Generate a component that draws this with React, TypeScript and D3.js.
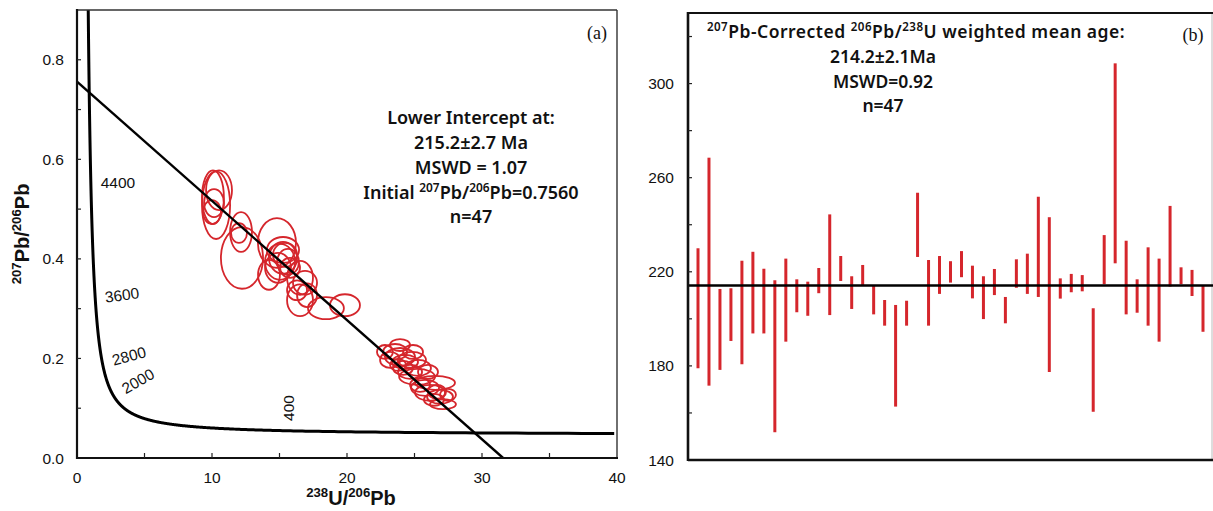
import React from "react";
import * as d3 from "d3";

// ---------- Panel (a) data: Tera-Wasserburg ellipses ----------
const ellX = [10.07, 10.3, 10.15, 10.52, 10.0, 12.15, 12.0, 12.22, 14.81, 15.26, 15.41, 15.04, 15.63, 15.26, 14.89, 14.22, 16.52, 16.89, 16.3, 16.52, 18.44, 19.85, 17.04, 15.78,
  23.56, 23.93, 23.19, 24.3, 24.81, 25.26, 24.15, 25.19, 26.52, 25.78, 26.15, 26.89, 27.11, 26.44, 23.78, 22.81, 24.67, 25.41, 26.0, 26.67, 24.89, 23.93, 27.48];
const ellY = [0.524, 0.508, 0.512, 0.538, 0.494, 0.454, 0.452, 0.402, 0.432, 0.402, 0.408, 0.394, 0.394, 0.418, 0.382, 0.368, 0.362, 0.352, 0.337, 0.317, 0.301, 0.307, 0.327, 0.382,
  0.213, 0.203, 0.197, 0.193, 0.197, 0.181, 0.181, 0.163, 0.151, 0.141, 0.131, 0.123, 0.108, 0.117, 0.187, 0.213, 0.173, 0.147, 0.173, 0.133, 0.213, 0.227, 0.127];
const ellRx = [0.81, 1.04, 0.74, 0.96, 0.67, 0.81, 0.59, 1.56, 1.41, 1.04, 0.89, 1.11, 0.81, 1.19, 0.96, 0.81, 0.96, 0.89, 0.74, 0.96, 1.33, 1.11, 0.74, 0.74,
  0.89, 1.11, 0.74, 0.96, 1.04, 0.96, 0.74, 1.33, 1.48, 1.04, 1.11, 0.96, 0.96, 0.74, 0.59, 0.59, 0.89, 0.74, 0.74, 0.67, 0.74, 0.74, 0.59];
const ellRy = [0.054, 0.068, 0.028, 0.04, 0.024, 0.04, 0.02, 0.062, 0.05, 0.032, 0.024, 0.036, 0.026, 0.026, 0.03, 0.03, 0.034, 0.024, 0.02, 0.032, 0.022, 0.022, 0.024, 0.02,
  0.016, 0.018, 0.016, 0.014, 0.016, 0.016, 0.014, 0.016, 0.014, 0.016, 0.016, 0.014, 0.01, 0.012, 0.012, 0.014, 0.014, 0.014, 0.014, 0.014, 0.014, 0.012, 0.012];

const xTicksA = [0, 10, 20, 30, 40];
const xMinorA = [5, 15, 25, 35];
const yTicksA = [0.0, 0.2, 0.4, 0.6, 0.8];
const yMinorA = [0.1, 0.3, 0.5, 0.7];
const concordiaLabels = ["4400", "3600", "2800", "2000", "400"];
const initialRatio = 0.756;
const lowerInterceptMa = 215.2;

// ---------- Panel (b) data: 206Pb/238U ages ----------
const ageTop = [230.0, 268.5, 212.7, 213.0, 224.7, 228.5, 221.3, 216.4, 225.6, 216.8, 215.8, 221.6, 244.4, 226.7, 218.1, 222.9, 214.1, 208.0, 205.9, 207.7, 253.6, 225.0, 226.7, 224.5,
  228.8, 222.6, 218.1, 221.2, 209.3, 225.3, 227.7, 251.9, 243.2, 217.2, 219.1, 218.6, 204.5, 235.6, 308.6, 233.2, 216.8, 230.4, 225.6, 248.0, 221.9, 220.8, 214.0];
const ageBottom = [179.0, 171.6, 178.3, 190.6, 180.7, 193.8, 193.8, 151.8, 190.3, 202.8, 201.3, 210.9, 201.6, 216.1, 204.2, 214.4, 201.9, 197.1, 162.7, 197.1, 226.3, 197.1, 210.6, 215.4,
  217.7, 208.7, 199.9, 210.1, 198.1, 213.2, 210.6, 209.3, 177.4, 208.6, 211.3, 211.7, 160.5, 214.7, 223.6, 201.9, 202.6, 197.1, 190.3, 213.7, 214.7, 209.7, 194.5];
const meanAge = 214.2;
const yTicksB = [140, 180, 220, 260, 300];
const yMinorB = [160, 200, 240, 280, 320];

const RED = "#d5262c";
const L238 = 1.55125e-10;
const L235 = 9.8485e-10;
const U_RATIO = 137.88;

function twPoint(tMa: number): [number, number] {
  const t = tMa * 1e6;
  const e8 = Math.exp(L238 * t) - 1;
  const e5 = Math.exp(L235 * t) - 1;
  return [1 / e8, e5 / e8 / U_RATIO];
}

type Part = { t: string; sup?: boolean };
function Rich({ parts, x, y, size, anchor = "middle", weight = 400, family, spacing = 0 }: { parts: Part[]; x: number; y: number; size: number; anchor?: string; weight?: number | string; family: string; spacing?: number }) {
  const supSize = size * 0.66;
  const shift = size * 0.4;
  const out: React.ReactNode[] = [];
  let raised = false;
  parts.forEach((p, i) => {
    let dy = 0;
    if (p.sup && !raised) { dy = -shift; raised = true; }
    else if (!p.sup && raised) { dy = shift; raised = false; }
    out.push(
      <tspan key={i} dy={dy} fontSize={p.sup ? supSize : size}>{p.t}</tspan>
    );
  });
  return (
    <text x={x} y={y} textAnchor={anchor} fontFamily={family} fontWeight={weight} fontSize={size} fill="#111" letterSpacing={spacing}>
      {out}
    </text>
  );
}

export default function App() {
  const W = 1213, H = 511;
  const sans = "'Liberation Sans', Arial, sans-serif";
  const ann = "'Noto Sans', 'Open Sans', sans-serif";
  const serif = "'Liberation Serif', 'Times New Roman', serif";

  // Panel (a)
  const xA = d3.scaleLinear().domain([0, 40]).range([77, 617]);
  const yA = d3.scaleLinear().domain([0, 0.9]).range([458, 10]);
  const ages = d3.range(140, 5400, 5);
  const concPts = ages.map(twPoint).filter(([x]) => x <= 41);
  const concLine = d3.line<[number, number]>().x(d => xA(d[0])).y(d => yA(d[1]))(concPts) || "";
  const li = twPoint(lowerInterceptMa);
  const slope = (li[1] - initialRatio) / li[0];
  const xZero = -initialRatio / slope;
  const discLine = d3.line<[number, number]>().x(d => xA(d[0])).y(d => yA(d[1]))([[0, initialRatio], [xZero, 0]]) || "";

  // Panel (b)
  const xB = d3.scaleLinear().domain([1, 47]).range([698, 1203]);
  const yB = d3.scaleLinear().domain([140, 330]).range([460, 13]);
  const bLeft = 688, bRight = 1213;

  const labelPos: [number, number, number][] = [
    [118, 182, 0], [122, 295, -8], [129, 356, -15], [138, 381, -30], [288, 408, -90],
  ];
  const aFS = 18;
  const bFS = 17.5;
  const aW = 600;

  return (
    <svg width={W} height={H} style={{ position: "absolute", left: 0, top: 0, background: "#fff" }}>
      <rect x={0} y={0} width={W} height={H} fill="#fff" />
      <defs>
        <clipPath id="clipA">
          <rect x={77} y={10} width={540} height={448} />
        </clipPath>
      </defs>

      {/* ---------- Panel (a) ---------- */}
      <g clipPath="url(#clipA)">
        {ellX.map((x, i) => (
          <ellipse key={i} cx={xA(x)} cy={yA(ellY[i])}
            rx={xA(x + ellRx[i]) - xA(x)} ry={yA(ellY[i]) - yA(ellY[i] + ellRy[i])}
            fill="none" stroke={RED} strokeWidth={1.8} />
        ))}
        <path d={discLine} fill="none" stroke="#000" strokeWidth={2.4} />
        <path d={concLine} fill="none" stroke="#000" strokeWidth={3} />
      </g>
      {/* frame */}
      <line x1={77} x2={617} y1={10} y2={10} stroke="#333" strokeWidth={1.4} />
      <line x1={617} x2={617} y1={10} y2={458} stroke="#333" strokeWidth={1.4} />
      <line x1={77} x2={77} y1={9} y2={459} stroke="#111" strokeWidth={2.2} />
      <line x1={76} x2={618} y1={458} y2={458} stroke="#111" strokeWidth={2.2} />
      {[...xTicksA, ...xMinorA].filter(v => v > 0 && v < 40).map(v => (
        <line key={"xt" + v} x1={xA(v)} x2={xA(v)} y1={458} y2={453} stroke="#222" strokeWidth={1.2} />
      ))}
      {[...yTicksA, ...yMinorA].filter(v => v > 0).map(v => (
        <line key={"yt" + v} x1={77} x2={81} y1={yA(v)} y2={yA(v)} stroke="#222" strokeWidth={1.2} />
      ))}
      {xTicksA.map(v => (
        <text key={"xl" + v} x={xA(v)} y={483} textAnchor="middle" fontFamily={sans} fontSize={15.5} fill="#111">{v}</text>
      ))}
      {yTicksA.map(v => (
        <text key={"yl" + v} x={64} y={yA(v) + 5.5} textAnchor="end" fontFamily={sans} fontSize={15.5} fill="#111">{v.toFixed(1)}</text>
      ))}
      {concordiaLabels.map((t, i) => {
        const [x, y, r] = labelPos[i];
        return (
          <text key={t} x={x} y={y} textAnchor="middle" dominantBaseline="central" transform={`rotate(${r},${x},${y})`}
            fontFamily={sans} fontSize={15.5} fill="#111">{t}</text>
        );
      })}
      <Rich parts={[{ t: "238", sup: true }, { t: "U/" }, { t: "206", sup: true }, { t: "Pb" }]} x={351} y={505} size={20} weight={700} family={sans} />
      <g transform="translate(29,234) rotate(-90)">
        <Rich parts={[{ t: "207", sup: true }, { t: "Pb/" }, { t: "206", sup: true }, { t: "Pb" }]} x={0} y={0} size={20} weight={700} family={sans} />
      </g>
      <text x={597} y={39} textAnchor="middle" fontFamily={serif} fontSize={18} fill="#111">(a)</text>
      <text x={471} y={124} textAnchor="middle" fontFamily={ann} fontWeight={aW} fontSize={aFS} fill="#111">Lower Intercept at:</text>
      <text x={471} y={149} textAnchor="middle" fontFamily={ann} fontWeight={aW} fontSize={aFS} fill="#111">215.2±2.7 Ma</text>
      <text x={471} y={174} textAnchor="middle" fontFamily={ann} fontWeight={aW} fontSize={aFS} fill="#111">MSWD = 1.07</text>
      <Rich parts={[{ t: "Initial " }, { t: "207", sup: true }, { t: "Pb/" }, { t: "206", sup: true }, { t: "Pb=0.7560" }]} x={471} y={199} size={aFS} weight={aW} family={ann} />
      <text x={471} y={223} textAnchor="middle" fontFamily={ann} fontWeight={aW} fontSize={aFS} fill="#111">n=47</text>

      {/* ---------- Panel (b) ---------- */}
      <line x1={bRight - 1} x2={bRight - 1} y1={13} y2={460} stroke="#bbb" strokeWidth={1} />
      {ageTop.map((t, i) => (
        <line key={"bar" + i} x1={xB(i + 1)} x2={xB(i + 1)} y1={yB(t)} y2={yB(ageBottom[i])} stroke={RED} strokeWidth={3} />
      ))}
      <line x1={bLeft} x2={bRight} y1={yB(meanAge)} y2={yB(meanAge)} stroke="#000" strokeWidth={2.6} />
      <line x1={bLeft} x2={bRight} y1={13} y2={13} stroke="#111" strokeWidth={2.2} />
      <line x1={bLeft} x2={bRight} y1={460} y2={460} stroke="#111" strokeWidth={2.6} />
      <line x1={bLeft} x2={bLeft} y1={12} y2={461} stroke="#111" strokeWidth={2.6} />
      {[...yTicksB, ...yMinorB].filter(v => v > 140).map(v => (
        <line key={"bt" + v} x1={bLeft} x2={bLeft + 4} y1={yB(v)} y2={yB(v)} stroke="#222" strokeWidth={1.2} />
      ))}
      {yTicksB.map(v => (
        <text key={"bl" + v} x={674} y={yB(v) + 5.5} textAnchor="end" fontFamily={sans} fontSize={15.5} fill="#111">{v}</text>
      ))}
      <Rich parts={[{ t: "207", sup: true }, { t: "Pb-Corrected " }, { t: "206", sup: true }, { t: "Pb/" }, { t: "238", sup: true }, { t: "U weighted mean age:" }]} x={916} y={38} size={bFS} weight={aW} family={ann} spacing={0.5} />
      <text x={883} y={63} textAnchor="middle" fontFamily={ann} fontWeight={aW} fontSize={bFS} fill="#111">214.2±2.1Ma</text>
      <text x={883} y={88} textAnchor="middle" fontFamily={ann} fontWeight={aW} fontSize={bFS} fill="#111">MSWD=0.92</text>
      <text x={883} y={112} textAnchor="middle" fontFamily={ann} fontWeight={aW} fontSize={bFS} fill="#111">n=47</text>
      <text x={1193} y={41} textAnchor="middle" fontFamily={serif} fontSize={18} fill="#111">(b)</text>
    </svg>
  );
}
